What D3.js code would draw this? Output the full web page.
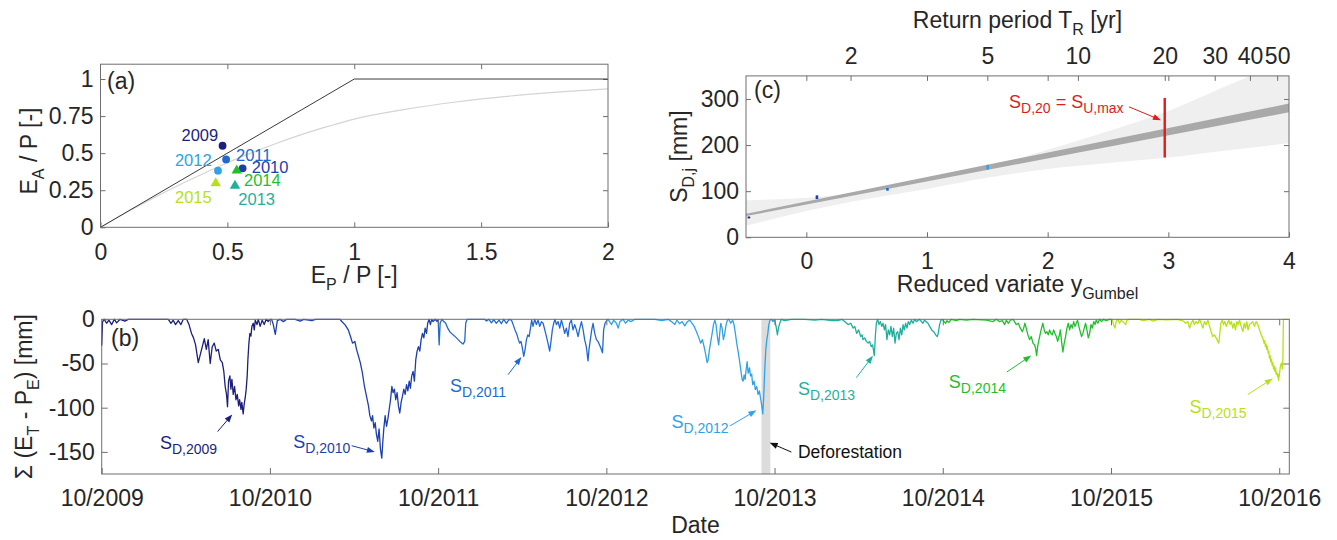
<!DOCTYPE html>
<html>
<head>
<meta charset="utf-8">
<script src="https://cdn.jsdelivr.net/npm/d3@7"></script>
<style>
  body { margin: 0; background: #fff; }
  text { font-family: 'Liberation Sans', Arial, Helvetica, sans-serif; }
</style>
</head>
<body>
<script>
// ---------- data ----------
var years = [2009, 2010, 2011, 2012, 2013, 2014, 2015];
var yearColors = ["#1b1f7b", "#1d3eae", "#2269cf", "#2fa2e8", "#1fb09c", "#21bf2c", "#b5e214"];

// panel (a): Budyko space, one point per hydrological year
var epRatio = [0.481, 0.560, 0.495, 0.463, 0.530, 0.537, 0.454];
var eaRatio = [0.550, 0.398, 0.458, 0.382, 0.283, 0.386, 0.300];
var limitX = [0, 1, 2];
var limitY = [0, 1, 1];
var budykoX = [0, 0.1, 0.2, 0.3, 0.4, 0.5, 0.6, 0.7, 0.8, 0.9, 1.0, 1.2, 1.4, 1.6, 1.8, 2.0];
var budykoY = [0, 0.098, 0.19, 0.277, 0.358, 0.435, 0.505, 0.57, 0.63, 0.682, 0.73, 0.795, 0.845, 0.883, 0.912, 0.934];

// panel (b): cumulative deficit, [decimal year, mm]
var def2009 = [[2009.750,-30],[2009.755,-3],[2009.765,0],[2009.779,-4.5],[2009.793,-1],[2009.809,-6],[2009.825,0],[2009.839,-4],[2009.859,0],[2009.888,-2],[2009.908,0],[2010.146,0],[2010.162,-4.5],[2010.175,-1],[2010.189,-6],[2010.205,-1.5],[2010.221,-6],[2010.235,0],[2010.255,0],[2010.269,-6],[2010.284,-16],[2010.296,-21],[2010.308,-29],[2010.324,-49],[2010.336,-40],[2010.348,-31],[2010.360,-22],[2010.372,-34],[2010.383,-23],[2010.395,-50],[2010.407,-31],[2010.419,-27],[2010.431,-36],[2010.443,-34],[2010.455,-46],[2010.467,-49],[2010.476,-59],[2010.484,-76],[2010.492,-85],[2010.498,-99],[2010.504,-70],[2010.512,-64],[2010.518,-79],[2010.524,-68],[2010.532,-85],[2010.540,-76],[2010.548,-91],[2010.556,-85],[2010.564,-98],[2010.570,-91],[2010.578,-102],[2010.583,-94],[2010.591,-107],[2010.597,-96],[2010.603,-89],[2010.609,-79],[2010.615,-64],[2010.619,-46],[2010.625,-27],[2010.631,-16],[2010.637,-19],[2010.643,-8],[2010.651,-4.5],[2010.657,-12],[2010.663,-1],[2010.673,-6],[2010.681,0],[2010.692,-8],[2010.704,-1],[2010.716,-6],[2010.728,0],[2010.740,-2.6],[2010.750,0]];
var def2010 = [[2010.750,0],[2010.760,0],[2010.770,-6],[2010.782,-17],[2010.794,-1.5],[2010.810,0],[2010.830,-2.6],[2010.850,0],[2010.900,0],[2010.930,-2],[2010.950,0],[2011.000,-1.5],[2011.020,0],[2011.120,0],[2011.166,0],[2011.180,-3],[2011.196,-6],[2011.216,-12],[2011.230,-20],[2011.241,-27],[2011.255,-25],[2011.265,-34],[2011.277,-42],[2011.288,-49.5],[2011.300,-61],[2011.312,-76],[2011.324,-87],[2011.336,-98],[2011.344,-109],[2011.354,-115],[2011.360,-109],[2011.368,-123],[2011.376,-117],[2011.383,-130],[2011.391,-138],[2011.399,-124],[2011.407,-147],[2011.415,-157],[2011.421,-139],[2011.427,-124],[2011.435,-109],[2011.443,-121],[2011.451,-113],[2011.459,-102],[2011.467,-91],[2011.475,-76],[2011.482,-83],[2011.490,-79],[2011.498,-91],[2011.506,-83],[2011.514,-98],[2011.522,-106],[2011.530,-94],[2011.538,-87],[2011.546,-79],[2011.554,-85],[2011.562,-74],[2011.570,-81],[2011.578,-70],[2011.585,-78],[2011.593,-64],[2011.601,-59],[2011.609,-70],[2011.617,-46],[2011.625,-36],[2011.633,-31],[2011.641,-36],[2011.649,-23],[2011.657,-16],[2011.665,-21],[2011.673,-10],[2011.681,-16],[2011.688,-4.5],[2011.696,0],[2011.704,-6],[2011.712,0],[2011.720,-2.6],[2011.732,0],[2011.744,-2.6],[2011.750,0]];
var def2011 = [[2011.750,0],[2011.756,-29],[2011.762,-4.5],[2011.772,0],[2011.784,-2.6],[2011.795,-4.5],[2011.807,-10],[2011.819,-14],[2011.839,-17.6],[2011.859,-21],[2011.879,-25],[2011.898,-28],[2011.908,-25],[2011.914,-4.5],[2011.922,0],[2012.027,0],[2012.037,-2],[2012.052,0],[2012.067,-4],[2012.081,-0.5],[2012.096,-4.5],[2012.112,-1],[2012.126,-5],[2012.140,0],[2012.156,-4.5],[2012.172,0],[2012.186,-1],[2012.196,-6],[2012.207,-12],[2012.219,-17.6],[2012.227,-23],[2012.235,-27],[2012.243,-25],[2012.251,-33],[2012.259,-42],[2012.267,-34],[2012.275,-23],[2012.283,-17.6],[2012.291,-19.5],[2012.299,-10],[2012.306,-1],[2012.314,-8],[2012.324,0],[2012.334,-6],[2012.344,-1],[2012.354,-8],[2012.364,-2.6],[2012.374,-4.5],[2012.384,-12],[2012.394,-19.5],[2012.403,-27],[2012.413,-36],[2012.421,-25],[2012.429,-12],[2012.437,-4.5],[2012.445,0],[2012.453,-6],[2012.463,-2.6],[2012.473,-10],[2012.483,-1],[2012.493,-8],[2012.502,-16],[2012.512,-10],[2012.522,-19.5],[2012.532,-4.5],[2012.542,-1],[2012.552,-12],[2012.562,-6],[2012.572,-12],[2012.582,-19.5],[2012.592,-10],[2012.602,-2.6],[2012.612,-12],[2012.621,-23],[2012.631,-31],[2012.641,-47],[2012.647,-34],[2012.655,-23],[2012.663,-12],[2012.671,-4.5],[2012.681,-16],[2012.691,-23],[2012.700,-25],[2012.710,-29],[2012.720,-34],[2012.727,-38],[2012.734,-12],[2012.742,-4.5],[2012.750,-2]];
var def2012 = [[2012.750,-2],[2012.760,0],[2012.770,-3],[2012.781,-6],[2012.793,-1],[2012.810,-4.5],[2012.820,-10],[2012.831,-2.6],[2012.850,0],[2012.864,-4.5],[2012.880,-1],[2012.896,-2.6],[2012.920,0],[2013.038,0],[2013.080,-1.5],[2013.118,0],[2013.137,-2.6],[2013.157,-6],[2013.169,-1],[2013.185,-5],[2013.201,-2.6],[2013.216,-7.5],[2013.232,-2.6],[2013.246,-1],[2013.260,-4.5],[2013.272,-8],[2013.286,-14],[2013.300,-21],[2013.311,-27],[2013.321,-23],[2013.331,-31],[2013.341,-40],[2013.349,-49],[2013.355,-46],[2013.363,-34],[2013.371,-25],[2013.379,-16],[2013.387,-6],[2013.395,-1],[2013.402,-6],[2013.410,-19.5],[2013.418,-29],[2013.424,-16],[2013.430,-4.5],[2013.438,-10],[2013.446,-23],[2013.454,-16],[2013.462,-6],[2013.470,-1],[2013.478,0],[2013.490,-4.5],[2013.501,-1],[2013.509,-6],[2013.517,-16],[2013.525,-27],[2013.533,-36],[2013.541,-46],[2013.549,-57],[2013.557,-68],[2013.563,-70],[2013.569,-63],[2013.575,-68],[2013.581,-57],[2013.587,-48],[2013.593,-61],[2013.601,-55],[2013.607,-64],[2013.614,-62],[2013.620,-74],[2013.628,-70],[2013.636,-79.5],[2013.644,-76],[2013.652,-85],[2013.660,-81],[2013.668,-91],[2013.674,-98],[2013.680,-107],[2013.686,-85],[2013.692,-55],[2013.698,-34],[2013.704,-23],[2013.710,-16],[2013.716,-6],[2013.723,-1],[2013.731,0],[2013.741,-2.6],[2013.750,0]];
var def2013 = [[2013.750,0],[2013.759,-8],[2013.767,-17.6],[2013.773,-10],[2013.781,-4.5],[2013.790,0],[2013.810,-1.5],[2013.850,0],[2013.930,0],[2013.990,-1],[2014.030,0],[2014.090,-1.5],[2014.127,-1.5],[2014.150,0],[2014.167,-2.6],[2014.187,-6],[2014.203,-4.5],[2014.217,-10],[2014.227,-8],[2014.238,-16],[2014.250,-12],[2014.262,-19.5],[2014.270,-17.6],[2014.276,-23],[2014.286,-21],[2014.296,-25],[2014.306,-27],[2014.315,-25],[2014.325,-31],[2014.333,-29],[2014.343,-41],[2014.349,-19.5],[2014.355,-4.5],[2014.363,0],[2014.371,-6],[2014.379,-2.6],[2014.387,-8],[2014.395,-4.5],[2014.403,-12],[2014.410,-6],[2014.418,-23],[2014.426,-12],[2014.434,-17.6],[2014.442,-8],[2014.450,-19.5],[2014.458,-10],[2014.466,-27],[2014.474,-16],[2014.482,-14],[2014.490,-23],[2014.498,-10],[2014.506,-17.6],[2014.514,-6],[2014.521,-12],[2014.529,-4.5],[2014.537,-10],[2014.545,-2.6],[2014.553,-6],[2014.563,-1],[2014.573,-4.5],[2014.583,0],[2014.593,-2.6],[2014.612,0],[2014.632,-4.5],[2014.642,-1],[2014.662,-4.5],[2014.672,-8],[2014.684,-12],[2014.696,-14],[2014.708,-17.6],[2014.717,-19.5],[2014.723,-16],[2014.731,-6],[2014.739,-1],[2014.750,0]];
var def2014 = [[2014.750,0],[2014.758,-2.6],[2014.767,-4.5],[2014.775,-1.5],[2014.787,-3.5],[2014.800,0],[2014.830,-1.5],[2014.850,0],[2014.890,-1],[2014.930,0],[2015.010,-1],[2015.048,-2.6],[2015.068,0],[2015.088,-2.6],[2015.104,-1.5],[2015.118,-6],[2015.128,-1],[2015.140,-4.5],[2015.152,-1],[2015.168,0],[2015.187,-6],[2015.199,-4.5],[2015.211,-10],[2015.223,-14],[2015.231,-10],[2015.238,-4.5],[2015.246,-10],[2015.256,-17.6],[2015.266,-23],[2015.276,-19.5],[2015.286,-27],[2015.296,-29],[2015.302,-33],[2015.308,-41],[2015.314,-31],[2015.322,-23],[2015.330,-16],[2015.337,-10],[2015.345,-4.5],[2015.353,-12],[2015.361,-16],[2015.369,-14],[2015.377,-17.6],[2015.385,-12],[2015.393,-16],[2015.401,-17.6],[2015.409,-12],[2015.417,-16],[2015.425,-19.5],[2015.433,-25],[2015.441,-19.5],[2015.449,-12],[2015.456,-25],[2015.464,-37],[2015.472,-27],[2015.480,-19.5],[2015.488,-10],[2015.496,-4.5],[2015.504,-12],[2015.512,-6],[2015.520,-10],[2015.528,-2.6],[2015.536,-8],[2015.544,-4.5],[2015.551,-1],[2015.559,-8],[2015.567,-14],[2015.575,-19.5],[2015.583,-16],[2015.591,-10],[2015.599,-4.5],[2015.607,-12],[2015.615,-21],[2015.623,-16],[2015.631,-6],[2015.639,-10],[2015.647,-2.6],[2015.655,-6],[2015.662,-1],[2015.672,-4.5],[2015.682,0],[2015.694,-2.6],[2015.706,0],[2015.722,-1.5],[2015.740,0],[2015.750,0]];
var def2015 = [[2015.750,0],[2015.757,0],[2015.765,-6],[2015.773,-10],[2015.781,-2.6],[2015.791,0],[2015.801,-4.5],[2015.811,-1],[2015.825,-3.5],[2015.837,-6],[2015.845,-1],[2015.860,0],[2015.920,0],[2015.940,-1.5],[2015.980,0],[2016.000,-2],[2016.030,0],[2016.080,-0.7],[2016.140,0],[2016.177,-1.5],[2016.193,-4.5],[2016.207,-2.6],[2016.217,-10],[2016.227,-4.5],[2016.237,-1],[2016.246,-6],[2016.256,-2.6],[2016.266,-5],[2016.276,0],[2016.286,-4.5],[2016.296,-10],[2016.306,-2.6],[2016.316,-6],[2016.326,-1],[2016.336,-8],[2016.345,-14],[2016.355,-19.5],[2016.365,-17.6],[2016.375,-21],[2016.385,-25],[2016.391,-27],[2016.397,-16],[2016.403,-4.5],[2016.411,-1],[2016.419,-6],[2016.427,-2.6],[2016.435,-8],[2016.443,-4.5],[2016.450,-1],[2016.458,-6],[2016.466,-2.6],[2016.474,-10],[2016.482,-4.5],[2016.490,-12],[2016.498,-2.6],[2016.506,-6],[2016.514,-1],[2016.524,-8],[2016.534,-14],[2016.542,-4.5],[2016.550,-10],[2016.557,-2.6],[2016.565,-12],[2016.573,-6],[2016.583,-4.5],[2016.593,-2.6],[2016.603,-8],[2016.613,-2.6],[2016.623,-6],[2016.633,-12],[2016.643,-17.6],[2016.652,-21],[2016.660,-27],[2016.664,-24],[2016.668,-31],[2016.672,-28],[2016.676,-34],[2016.680,-31],[2016.684,-38],[2016.688,-36],[2016.692,-44],[2016.696,-41],[2016.700,-48],[2016.704,-45],[2016.708,-52],[2016.712,-49],[2016.716,-56],[2016.720,-53],[2016.724,-59],[2016.728,-55],[2016.732,-62],[2016.736,-60],[2016.740,-65],[2016.743,-62],[2016.746,-69],[2016.750,-64],[2016.754,-58],[2016.757,-53],[2016.763,-49.5],[2016.769,-56],[2016.772,-45],[2016.775,0],[2016.811,0]];
var deficits = [def2009, def2010, def2011, def2012, def2013, def2014, def2015];
var dateTicks = [2009.75, 2010.75, 2011.75, 2012.75, 2013.75, 2014.75, 2015.75, 2016.75];
var dateLabels = ["10/2009", "10/2010", "10/2011", "10/2012", "10/2013", "10/2014", "10/2015", "10/2016"];
var deforestation = [2013.672, 2013.725];

// panel (c): Gumbel fit
var returnPeriods = [2, 5, 10, 20, 30, 40, 50];
var bandX = [-0.5, 0, 0.5, 1, 1.5, 2, 2.5, 3, 3.5, 4];
var bandLo = [25, 57, 83, 105, 129, 148, 161, 173, 189, 204];
var bandHi = [80, 86, 98, 122, 153, 190, 230, 274, 330, 385];
var fitX = [-0.5, 4];
var fitLo = [46, 271];
var fitHi = [51, 290];
var obsY = [-0.476, 0.088, 0.672, 1.503];
var obsLo = [41, 83, 101, 147];
var obsHi = [45, 91, 107, 157];
var obsColors = ["#1b1f7b", "#1d3eae", "#2269cf", "#2fa2e8"];
var sd20 = [173, 302];

// ---------- drawing ----------
var ink = "#262626", boxCol = "#6e6e6e", FS = 23, SUB = 16;
var svg = d3.select("body").append("svg").attr("width", 1337).attr("height", 540);

function richText(g, x, y, parts, size, sub, color, anchor, rot) {
  var t = g.append("text").attr("x", x).attr("y", y).attr("fill", color)
    .attr("font-size", size).attr("text-anchor", anchor || "start");
  if (rot) t.attr("transform", "rotate(" + rot + "," + x + "," + y + ")");
  var shift = 0, drop = Math.round(size * 0.3);
  parts.forEach(function (p) {
    var target = p[1] ? drop : 0;
    t.append("tspan").attr("dy", target - shift).attr("font-size", p[1] ? sub : size).text(p[0]);
    shift = target;
  });
  return t;
}

function arrow(g, x1, y1, x2, y2, color) {
  var a = Math.atan2(y2 - y1, x2 - x1), L = 8, w = 3;
  g.append("line").attr("x1", x1).attr("y1", y1)
    .attr("x2", x2 - Math.cos(a) * L * 0.8).attr("y2", y2 - Math.sin(a) * L * 0.8)
    .attr("stroke", color).attr("stroke-width", 1);
  var bx = x2 - Math.cos(a) * L, by = y2 - Math.sin(a) * L;
  g.append("path").attr("fill", color)
    .attr("d", "M" + x2 + "," + y2 + "L" + (bx - Math.sin(a) * w) + "," + (by + Math.cos(a) * w) +
      "L" + (bx + Math.sin(a) * w) + "," + (by - Math.cos(a) * w) + "Z");
}

function styleAxis(sel) {
  sel.select(".domain").remove();
  sel.selectAll(".tick line").attr("stroke", boxCol);
  sel.selectAll("text").attr("fill", ink).attr("font-size", FS)
    .attr("font-family", "'Liberation Sans', Arial, Helvetica, sans-serif");
}

function frame(g, x, y) {
  g.append("rect").attr("x", x.range()[0]).attr("y", y.range()[1])
    .attr("width", x.range()[1] - x.range()[0]).attr("height", y.range()[0] - y.range()[1])
    .attr("fill", "none").attr("stroke", boxCol).attr("stroke-width", 1);
}

// ----- panel (a) -----
var xA = d3.scaleLinear().domain([0, 2]).range([100.5, 608]);
var yA = d3.scaleLinear().domain([0, 1.1]).range([227.3, 64.2]);
var gA = svg.append("g");
var fmt = function (d) { return String(d); };
gA.append("g").attr("transform", "translate(0," + yA(0) + ")")
  .call(d3.axisBottom(xA).tickValues([0, 0.5, 1, 1.5, 2]).tickFormat(fmt).tickSize(-5).tickPadding(16)).call(styleAxis);
gA.append("g").attr("transform", "translate(0," + yA(1.1) + ")")
  .call(d3.axisTop(xA).tickValues([0.5, 1, 1.5]).tickFormat("").tickSize(-5)).call(styleAxis);
gA.append("g").attr("transform", "translate(" + xA(0) + ",0)")
  .call(d3.axisLeft(yA).tickValues([0, 0.25, 0.5, 0.75, 1]).tickFormat(fmt).tickSize(-5).tickPadding(7)).call(styleAxis);
gA.append("g").attr("transform", "translate(" + xA(2) + ",0)")
  .call(d3.axisRight(yA).tickValues([0.25, 0.5, 0.75, 1]).tickFormat("").tickSize(-5)).call(styleAxis);

gA.append("path").datum(budykoX.map(function (d, i) { return [d, budykoY[i]]; }))
  .attr("fill", "none").attr("stroke", "#d4d4d4").attr("stroke-width", 1.2)
  .attr("d", d3.line().x(function (d) { return xA(d[0]); }).y(function (d) { return yA(d[1]); }).curve(d3.curveMonotoneX));
gA.append("path").datum(limitX.map(function (d, i) { return [d, limitY[i]]; }))
  .attr("fill", "none").attr("stroke", "#3a3a3a").attr("stroke-width", 1)
  .attr("d", d3.line().x(function (d) { return xA(d[0]); }).y(function (d) { return yA(d[1]); }));
frame(gA, xA, yA);

years.forEach(function (yr, i) {
  var cx = xA(epRatio[i]), cy = yA(eaRatio[i]);
  if (yr < 2013) {
    gA.append("circle").attr("cx", cx).attr("cy", cy).attr("r", 3.9).attr("fill", yearColors[i]);
  } else {
    gA.append("path").attr("transform", "translate(" + cx + "," + cy + ")")
      .attr("d", "M0,-5.6L5.2,3.4L-5.2,3.4Z").attr("fill", yearColors[i]);
  }
});
// year labels [x, y, anchor] in data units
var aLabelPos = [[0.464, 0.584, "end"], [0.596, 0.369, "start"], [0.534, 0.447, "start"], [0.438, 0.415, "end"],
                 [0.543, 0.150, "start"], [0.5655, 0.281, "start"], [0.2936, 0.166, "start"]];
years.forEach(function (yr, i) {
  gA.append("text").attr("x", xA(aLabelPos[i][0])).attr("y", yA(aLabelPos[i][1]))
    .attr("text-anchor", aLabelPos[i][2]).attr("font-size", 16.5).attr("fill", yearColors[i]).text(yr);
});
gA.append("text").attr("x", 107).attr("y", 89).attr("font-size", FS).attr("fill", ink).text("(a)");
richText(gA, xA(1), 283, [["E"], ["P", 1], [" / P [-]"]], FS, SUB, ink, "middle");
richText(gA, 37, 151, [["E"], ["A", 1], [" / P [-]"]], FS, SUB, ink, "middle", -90);

// ----- panel (c) -----
var xC = d3.scaleLinear().domain([-0.5, 4]).range([746, 1289]);
var yC = d3.scaleLinear().domain([0, 350]).range([237.3, 75.9]);
var gumbel = function (T) { return -Math.log(-Math.log(1 - 1 / T)); };
var gC = svg.append("g");
svg.append("clipPath").attr("id", "clipC").append("rect")
  .attr("x", xC(-0.5)).attr("y", yC(350)).attr("width", xC(4) - xC(-0.5)).attr("height", yC(0) - yC(350));
var plotC = gC.append("g").attr("clip-path", "url(#clipC)");
plotC.append("path").datum(bandX.map(function (d, i) { return [d, bandLo[i], bandHi[i]]; }))
  .attr("fill", "#efefef")
  .attr("d", d3.area().x(function (d) { return xC(d[0]); }).y0(function (d) { return yC(d[1]); }).y1(function (d) { return yC(d[2]); }).curve(d3.curveMonotoneX));
plotC.append("path").datum(fitX.map(function (d, i) { return [d, fitLo[i], fitHi[i]]; }))
  .attr("fill", "#a9a9a9")
  .attr("d", d3.area().x(function (d) { return xC(d[0]); }).y0(function (d) { return yC(d[1]); }).y1(function (d) { return yC(d[2]); }));
obsY.forEach(function (d, i) {
  plotC.append("rect").attr("x", xC(d) - 1.3).attr("width", 2.6)
    .attr("y", yC(obsHi[i])).attr("height", yC(obsLo[i]) - yC(obsHi[i])).attr("fill", obsColors[i]);
});
plotC.append("line").attr("x1", xC(gumbel(20))).attr("x2", xC(gumbel(20)))
  .attr("y1", yC(sd20[0])).attr("y2", yC(sd20[1])).attr("stroke", "#dd1c1c").attr("stroke-width", 2.4);

gC.append("g").attr("transform", "translate(0," + yC(0) + ")")
  .call(d3.axisBottom(xC).tickValues([0, 1, 2, 3, 4]).tickFormat(fmt).tickSize(-5).tickPadding(15)).call(styleAxis);
gC.append("g").attr("transform", "translate(0," + yC(350) + ")")
  .call(d3.axisTop(xC).tickValues([0, 1, 2, 3]).tickFormat("").tickSize(-5)).call(styleAxis);
gC.append("g").attr("transform", "translate(0," + yC(350) + ")")
  .call(d3.axisTop(xC).tickValues(returnPeriods.map(gumbel)).tickFormat(function (d, i) { return returnPeriods[i]; })
    .tickSize(-5).tickPadding(12)).call(styleAxis);
gC.append("g").attr("transform", "translate(" + xC(-0.5) + ",0)")
  .call(d3.axisLeft(yC).tickValues([0, 100, 200, 300]).tickFormat(fmt).tickSize(-5).tickPadding(7)).call(styleAxis);
gC.append("g").attr("transform", "translate(" + xC(4) + ",0)")
  .call(d3.axisRight(yC).tickValues([100, 200, 300]).tickFormat("").tickSize(-5)).call(styleAxis);
frame(gC, xC, yC);

gC.append("text").attr("x", 754).attr("y", 98).attr("font-size", FS).attr("fill", ink).text("(c)");
richText(gC, xC(1.68), yC(280), [["S"], ["D,20", 1], [" = S"], ["U,max", 1]], 18, 14, "#dd1c1c", "start");
arrow(gC, xC(2.673), yC(283), xC(2.939), yC(254), "#dd1c1c");
richText(gC, (xC(-0.5) + xC(4)) / 2, 292, [["Reduced variate y"], ["Gumbel", 1]], FS, SUB, ink, "middle");
richText(gC, (xC(-0.5) + xC(4)) / 2, 28, [["Return period T"], ["R", 1], [" [yr]"]], FS, SUB, ink, "middle");
richText(gC, 687, (yC(0) + yC(350)) / 2, [["S"], ["D,j", 1], [" [mm]"]], FS, SUB, ink, "middle", -90);

// ----- panel (b) -----
var xB = d3.scaleLinear().domain([2009.75, 2016.81]).range([101.7, 1289.3]);
var yB = d3.scaleLinear().domain([-175, 0]).range([474, 319.3]);
var gB = svg.append("g");
gB.append("rect").attr("x", xB(deforestation[0])).attr("width", xB(deforestation[1]) - xB(deforestation[0]))
  .attr("y", yB(0)).attr("height", yB(-175) - yB(0)).attr("fill", "#dcdcdc");
var lineB = d3.line().x(function (d) { return xB(d[0]); }).y(function (d) { return yB(d[1]); });
deficits.forEach(function (s, i) {
  gB.append("path").datum(s).attr("fill", "none").attr("stroke", yearColors[i])
    .attr("stroke-width", 1.3).attr("stroke-linejoin", "round").attr("d", lineB);
});
gB.append("g").attr("transform", "translate(0," + yB(-175) + ")")
  .call(d3.axisBottom(xB).tickValues(dateTicks).tickFormat(function (d, i) { return dateLabels[i]; })
    .tickSize(-6).tickPadding(16)).call(styleAxis);
gB.append("g").attr("transform", "translate(0," + yB(0) + ")")
  .call(d3.axisTop(xB).tickValues(dateTicks.slice(1)).tickFormat("").tickSize(-6)).call(styleAxis);
gB.append("g").attr("transform", "translate(" + xB(2009.75) + ",0)")
  .call(d3.axisLeft(yB).tickValues([-150, -100, -50, 0]).tickFormat(fmt).tickSize(-6).tickPadding(7)).call(styleAxis);
gB.append("g").attr("transform", "translate(" + xB(2016.81) + ",0)")
  .call(d3.axisRight(yB).tickValues([-150, -100, -50]).tickFormat("").tickSize(-6)).call(styleAxis);
frame(gB, xB, yB);

// S_D labels: [label x, label y, arrow tail x, y, arrow head x, y] in data units
var sdAnno = [[2010.096, -147.2, 2010.439, -127, 2010.526, -107.6],
              [2010.888, -146, 2011.236, -143, 2011.374, -150],
              [2011.820, -82.7, 2012.166, -62.6, 2012.245, -42.7],
              [2013.137, -122.7, 2013.484, -120.7, 2013.642, -103],
              [2013.889, -85.2, 2014.236, -66, 2014.335, -41.3],
              [2014.786, -77.7, 2015.131, -59.6, 2015.276, -40.9],
              [2016.216, -105.9, 2016.563, -85, 2016.712, -67]];
years.forEach(function (yr, i) {
  var a = sdAnno[i];
  richText(gB, xB(a[0]), yB(a[1]), [["S"], ["D," + yr, 1]], 18, 14, yearColors[i], "start");
  arrow(gB, xB(a[2]), yB(a[3]), xB(a[4]), yB(a[5]), yearColors[i]);
});
arrow(gB, xB(2013.850), yB(-150.2), xB(2013.721), yB(-139.6), "#111");
gB.append("text").attr("x", xB(2013.889)).attr("y", yB(-156.5)).attr("font-size", 17.5).attr("fill", "#111").text("Deforestation");
gB.append("text").attr("x", 111).attr("y", 346).attr("font-size", FS).attr("fill", ink).text("(b)");
gB.append("text").attr("x", (xB(2009.75) + xB(2016.81)) / 2).attr("y", 533).attr("font-size", FS)
  .attr("text-anchor", "middle").attr("fill", ink).text("Date");
richText(gB, 32, (yB(0) + yB(-175)) / 2, [["\u03A3 (E"], ["T", 1], [" - P"], ["E", 1], [") [mm]"]], FS, SUB, ink, "middle", -90);
</script>
</body>
</html>
